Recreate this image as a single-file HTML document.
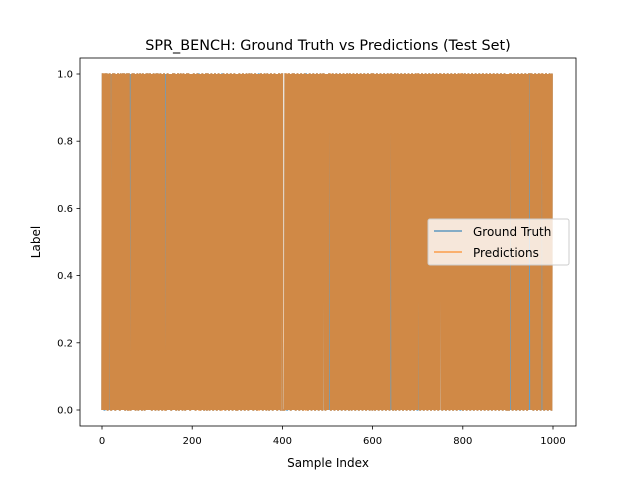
<!DOCTYPE html>
<html><head><meta charset="utf-8"><style>
body{margin:0;background:#fff}
svg text{font-family:"DejaVu Sans","Liberation Sans",sans-serif;fill:#000}
</style></head><body>
<svg width="640" height="480" xmlns="http://www.w3.org/2000/svg">
<rect width="640" height="480" fill="#fff"/>
<g id="plot"></g>
<rect x="80" y="58" width="496" height="368" fill="none" stroke="#000" stroke-width="0.8"/>
<g id="ticks"></g>
<text x="328" y="50" font-size="14.4" text-anchor="middle">SPR_BENCH: Ground Truth vs Predictions (Test Set)</text>
<text x="328" y="467" font-size="12" text-anchor="middle">Sample Index</text>
<text x="40" y="242" font-size="12" text-anchor="middle" transform="rotate(-90 40 242)">Label</text>
<g>
<rect x="428" y="219" width="141" height="46" rx="2" fill="#fff" fill-opacity="0.8" stroke="#ccc"/>
<line x1="434" y1="231" x2="462" y2="231" stroke="#1f77b4" stroke-opacity="0.7" stroke-width="1.5"/>
<text x="473" y="236" font-size="12">Ground Truth</text>
<line x1="434" y1="252" x2="462" y2="252" stroke="#ff7f0e" stroke-opacity="0.7" stroke-width="1.5"/>
<text x="473" y="257" font-size="12">Predictions</text>
</g>
</svg>
<script>
const gtRows = [
"01101001101100101101001011011001010110100110101101",
"10010110011010010110110100101100101101001101001011",
"01101011010010110100110110010110100101101001011010",
"10100101101101001011001011010011010010110110100101",
"01011010010110110100101101001011001101001011010010",
"11010010110100101101101001011010010110100101101001",
"00101101001011010010110100110101101001011010010110",
"10110100101101001101001011010010110101001011010011",
"10000011010010110100101101101001011010010110100101",
"10110100101101001011010010110100101101001110100101",
"01011010010110100101101001011010010110100101101001",
"10100101101001011010010110100101101001011010010110",
"01101001011010010110100101101001011010010110100101",
"10010110100101101001011010010110100101101001011010",
"01101001011010010110100101101001011010010110100101",
"11010010110100101101001011010010110100101101001011",
"00101101001011010010110100101101001011010010110100",
"10110100101101001011010010110100101101001011010010",
"01001011010010110100101101001011010010110100101101",
"10110100101101001011010010110100101101001011010011"
];
const mismatchIdx = [5, 18, 19, 62, 140, 215, 266, 348, 410, 452, 505, 640, 700, 795, 905, 948, 975];
const xTicks = [0, 200, 400, 600, 800, 1000];
const yTicks = [0.0, 0.2, 0.4, 0.6, 0.8, 1.0];

const gt = gtRows.join("").split("").map(Number);
const pred = gt.slice();
mismatchIdx.forEach(i => { if (i < pred.length) pred[i] = 1 - pred[i]; });

const xs = v => 102 + v * 0.451;
const ys = v => 410 - v * 336;
const NS = "http://www.w3.org/2000/svg";
const plot = document.getElementById("plot");
function series(arr, color, name) {
  const p = document.createElementNS(NS, "polyline");
  p.setAttribute("points", arr.map((v, i) => xs(i).toFixed(2) + "," + ys(v).toFixed(2)).join(" "));
  p.setAttribute("fill", "none");
  p.setAttribute("stroke", color);
  p.setAttribute("stroke-opacity", "0.7");
  p.setAttribute("stroke-width", "1.5");
  
  
  plot.appendChild(p);
}
series(gt, "#1f77b4", "ground-truth-line");
series(pred, "#ff7f0e", "predictions-line");

const tg = document.getElementById("ticks");
xTicks.forEach(t => {
  const l = document.createElementNS(NS, "line");
  l.setAttribute("x1", xs(t)); l.setAttribute("x2", xs(t));
  l.setAttribute("y1", 426); l.setAttribute("y2", 429.5);
  l.setAttribute("stroke", "#000"); l.setAttribute("stroke-width", "0.8");
  
  
  tg.appendChild(l);
  const tx = document.createElementNS(NS, "text");
  tx.setAttribute("x", xs(t)); tx.setAttribute("y", 444);
  tx.setAttribute("font-size", "10"); tx.setAttribute("text-anchor", "middle");
  tx.textContent = t;
  
  
  tg.appendChild(tx);
});
yTicks.forEach(t => {
  const l = document.createElementNS(NS, "line");
  l.setAttribute("x1", 76.5); l.setAttribute("x2", 80);
  l.setAttribute("y1", ys(t)); l.setAttribute("y2", ys(t));
  l.setAttribute("stroke", "#000"); l.setAttribute("stroke-width", "0.8");
  
  
  tg.appendChild(l);
  const tx = document.createElementNS(NS, "text");
  tx.setAttribute("x", 73); tx.setAttribute("y", ys(t) + 3.5);
  tx.setAttribute("font-size", "10"); tx.setAttribute("text-anchor", "end");
  tx.textContent = t.toFixed(1);
  
  
  tg.appendChild(tx);
});
</script>
</body></html>
